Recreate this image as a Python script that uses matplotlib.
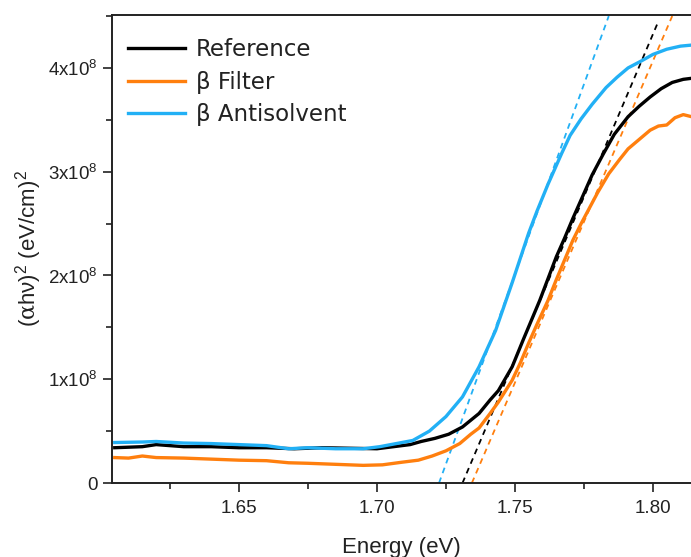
import matplotlib
matplotlib.use("Agg")
import matplotlib.pyplot as plt
from matplotlib.ticker import MultipleLocator, FuncFormatter

plt.rcParams['font.family'] = ['Liberation Sans', 'DejaVu Sans']
plt.rcParams['mathtext.fontset'] = 'custom'
plt.rcParams['mathtext.rm'] = 'Liberation Sans'
plt.rcParams['mathtext.it'] = 'Liberation Sans:italic'
plt.rcParams['mathtext.sf'] = 'DejaVu Serif'

# ---- data (energy in eV, (alpha h nu)^2 in units of 1e8 (eV/cm)^2) ----
ref_E = [1.605, 1.615, 1.620, 1.630, 1.640, 1.650, 1.660, 1.670, 1.680, 1.690,
         1.700, 1.706, 1.712, 1.716, 1.721, 1.726, 1.731, 1.737, 1.741, 1.744,
         1.749, 1.753, 1.756, 1.759, 1.762, 1.765, 1.768, 1.771, 1.774, 1.778,
         1.782, 1.786, 1.791, 1.795, 1.799, 1.803, 1.807, 1.811, 1.814]
ref_Y = [0.34, 0.35, 0.37, 0.35, 0.35, 0.34, 0.34, 0.33, 0.34, 0.335,
         0.33, 0.35, 0.37, 0.40, 0.43, 0.47, 0.54, 0.67, 0.80, 0.89,
         1.12, 1.38, 1.57, 1.76, 1.97, 2.18, 2.36, 2.55, 2.73, 2.97,
         3.17, 3.36, 3.53, 3.63, 3.72, 3.80, 3.86, 3.89, 3.90]

filt_E = [1.605, 1.610, 1.615, 1.620, 1.630, 1.640, 1.650, 1.660, 1.668, 1.675,
          1.685, 1.695, 1.702, 1.709, 1.715, 1.720, 1.725, 1.730, 1.734, 1.737,
          1.741, 1.744, 1.749, 1.752, 1.755, 1.758, 1.762, 1.765, 1.768, 1.771,
          1.774, 1.777, 1.780, 1.784, 1.788, 1.791, 1.795, 1.799, 1.802, 1.805,
          1.808, 1.811, 1.814]
filt_Y = [0.245, 0.24, 0.26, 0.245, 0.24, 0.23, 0.22, 0.215, 0.195, 0.19,
          0.18, 0.17, 0.175, 0.20, 0.22, 0.26, 0.31, 0.38, 0.47, 0.53,
          0.67, 0.78, 0.99, 1.16, 1.35, 1.53, 1.76, 1.96, 2.15, 2.34,
          2.50, 2.65, 2.80, 2.98, 3.12, 3.22, 3.31, 3.40, 3.44, 3.45,
          3.52, 3.55, 3.53]

anti_E = [1.605, 1.615, 1.620, 1.630, 1.640, 1.650, 1.660, 1.668, 1.675, 1.685,
          1.695, 1.701, 1.707, 1.713, 1.719, 1.725, 1.731, 1.737, 1.743, 1.749,
          1.752, 1.755, 1.758, 1.762, 1.767, 1.770, 1.774, 1.778, 1.783, 1.787,
          1.791, 1.796, 1.800, 1.805, 1.810, 1.814]
anti_Y = [0.39, 0.395, 0.40, 0.385, 0.38, 0.37, 0.36, 0.33, 0.34, 0.33,
          0.33, 0.35, 0.38, 0.41, 0.50, 0.64, 0.83, 1.12, 1.47, 1.93,
          2.17, 2.41, 2.62, 2.88, 3.18, 3.35, 3.51, 3.65, 3.81, 3.91,
          4.00, 4.07, 4.13, 4.18, 4.21, 4.22]

# linear Tauc fits (end points)
ref_fit_E = [1.731, 1.802]
ref_fit_Y = [0.0, 4.45]
filt_fit_E = [1.7344, 1.807]
filt_fit_Y = [0.0, 4.50]
anti_fit_E = [1.7225, 1.784]
anti_fit_Y = [0.0, 4.50]

labels = ['Reference', 'β Filter', 'β Antisolvent']
colors = ['#000000', '#ff7f0e', '#22b0f5']

scale = 1e8

fig = plt.figure(figsize=(6.91, 5.57), dpi=100)
ax = fig.add_axes([112/691, 1-483/557, 1-112/691, (483-15)/557])

dash = (0, (3.2, 2.6))
for fe, fy, c in [(ref_fit_E, ref_fit_Y, colors[0]),
                  (filt_fit_E, filt_fit_Y, colors[1]),
                  (anti_fit_E, anti_fit_Y, colors[2])]:
    ax.plot(fe, [v*scale for v in fy], color=c, lw=1.3, ls=dash, zorder=2)

for E, Y, c, lab in [(ref_E, ref_Y, colors[0], labels[0]),
                     (filt_E, filt_Y, colors[1], labels[1]),
                     (anti_E, anti_Y, colors[2], labels[2])]:
    ax.plot(E, [v*scale for v in Y], color=c, lw=2.4, label=lab, zorder=3,
            solid_joinstyle='round')

ax.set_xlim(1.604, 1.8138)
ax.set_ylim(0, 4.51e8)

ax.xaxis.set_major_locator(MultipleLocator(0.05))
ax.xaxis.set_minor_locator(MultipleLocator(0.025))
ax.yaxis.set_major_locator(MultipleLocator(1e8))
ax.yaxis.set_minor_locator(MultipleLocator(0.5e8))

ax.xaxis.set_major_formatter(FuncFormatter(lambda v, p: f"{v:.2f}"))
def yfmt(v, p):
    n = int(round(v/1e8))
    return "0" if n == 0 else f"{n}x10$^{{8}}$"
ax.yaxis.set_major_formatter(FuncFormatter(yfmt))

ax.tick_params(axis='both', which='major', direction='out', length=6.5, width=1.2,
               labelsize=13.5, colors='#222222', labelcolor='#222222')
ax.tick_params(axis='both', which='minor', direction='out', length=4, width=1.2,
               colors='#222222')
ax.tick_params(axis='x', which='major', pad=6)
ax.tick_params(axis='y', which='major', pad=4)

for s in ['left', 'bottom', 'top']:
    ax.spines[s].set_linewidth(1.4)
    ax.spines[s].set_color('#222222')
ax.spines['right'].set_visible(False)

ax.set_xlabel('Energy (eV)', fontsize=16, color='#222222')
ax.xaxis.set_label_coords(0.5, -0.115)
ax.set_ylabel('($\\mathsf{\\alpha}$hν)$^{2}$ (eV/cm)$^{2}$', fontsize=16,
              color='#222222')
ax.yaxis.set_label_coords(-0.118, 0.5)

leg = ax.legend(loc='upper left', frameon=False, handlelength=2.5,
                handletextpad=0.45, labelspacing=0.42, borderaxespad=0.3,
                prop={'family': 'DejaVu Sans', 'size': 16.5},
                bbox_to_anchor=(0.0, 0.985))
for t in leg.get_texts():
    t.set_color('#222222')

fig.savefig('out.png', dpi=100)
